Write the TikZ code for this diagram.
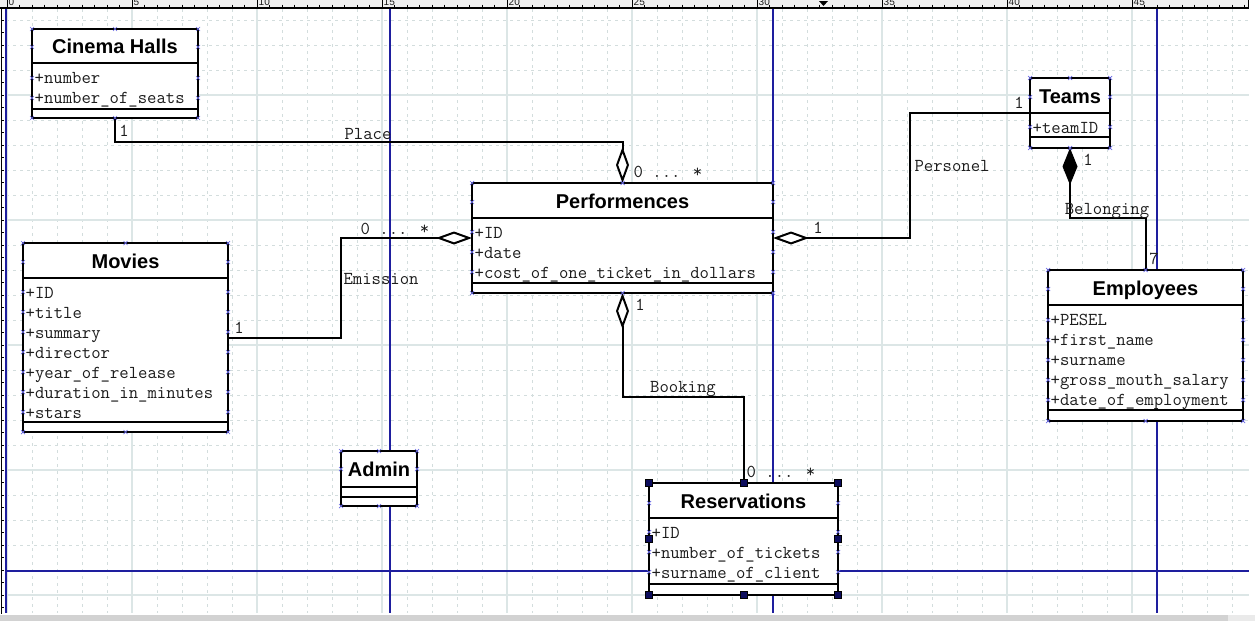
\documentclass[tikz,border=0pt]{standalone}
\usepackage{fontspec}
\setmainfont{Liberation Sans}
\usetikzlibrary{arrows.meta,fit}
\definecolor{gridminor}{HTML}{D3DDDD}
\definecolor{gridmajor}{HTML}{DCE6E6}
\definecolor{pageblue}{HTML}{1E1E9E}
\definecolor{xblue}{HTML}{6A6AE6}
\definecolor{handlec}{HTML}{0C0C5C}
\definecolor{txtc}{HTML}{1C1C1C}
\definecolor{rulerbg}{HTML}{F0F0F0}
\definecolor{barc}{HTML}{D2D2D2}
\definecolor{barlight}{HTML}{EAEAEA}
\tikzset{
 umlbox/.style={draw=black, line width=2pt, fill=white, inner sep=0pt, outer sep=0pt, rectangle},
 sepline/.style={draw=black, line width=2pt},
 conn/.style={draw=black, line width=2pt},
 ttl/.style={font=\fontsize{20}{24}\selectfont\bfseries, text=black, anchor=base, inner sep=0pt},
 attr/.style={font=\ttfamily\fontsize{18.2}{20}\selectfont, text=txtc, anchor=base west, inner sep=0pt},
 lbl/.style={font=\ttfamily\fontsize{18.2}{20}\selectfont, text=txtc, anchor=base, inner sep=0pt},
 xm/.style={draw=xblue, line width=0.7pt},
 rnum/.style={font=\fontsize{10}{10}\selectfont, text=txtc, anchor=south west, inner sep=0pt},
}
% name, left, top, right, bottom, sep1, sep2
\newcommand\umlclass[7]{%
  \node[umlbox, fit={(#2,#3) (#4,#5)}] (#1) {};
  \draw[sepline] (#2,#6) -- (#4,#6) (#2,#7) -- (#4,#7);
}
\newcommand\xmk[1]{\draw[xm] #1 +(-2,-2) -- +(2,2) +(-2,2) -- +(2,-2);}
\newcommand\rowmarks[2]{%
  \foreach \yy in {#2} {\xmk{(#1.west |- 0,\yy)}\xmk{(#1.east |- 0,\yy)}}%
}
\newcommand\cornermarks[1]{%
  \foreach \aa in {north west,north,north east,south west,south,south east} {\xmk{(#1.\aa)}}%
}
\begin{document}
\begin{tikzpicture}[x=1pt,y=-1pt]
\useasboundingbox (0,0) rectangle (1255,621);
\fill[white] (0,0) rectangle (1255,621);
% grid
\begin{scope}
\clip (6,9) rectangle (1249,613);
\foreach \x in {7,32,...,1250} \draw[gridminor, line width=0.9pt, dash pattern=on 3pt off 4pt] (\x,9) -- (\x,613);
\foreach \y in {20,45,...,613} \draw[gridminor, line width=0.9pt, dash pattern=on 3pt off 4pt] (6,\y) -- (1249,\y);
\foreach \x in {7,132,...,1250} \draw[gridmajor, line width=1.4pt] (\x,9) -- (\x,613);
\foreach \y in {95,220,...,613} \draw[gridmajor, line width=1.4pt] (6,\y) -- (1249,\y);
\end{scope}
% page borders
\draw[pageblue, line width=1.2pt] (6,9) -- (6,613);
\foreach \x in {390,773,1157} \draw[pageblue, line width=1.2pt] (\x,9) -- (\x,613);
\draw[pageblue, line width=1.2pt] (6,571) -- (1249,571);
% top ruler
\fill[rulerbg] (0,0) rectangle (1249,8);
\begin{scope}
\clip (0,0) rectangle (1249,8);
\foreach \x in {7,19.5,...,1249} \draw[black, line width=0.8pt] (\x,4.5) -- (\x,8);
\foreach \x/\n in {7/0,132/5,257/10,382/15,507/20,632/25,757/30,882/35,1007/40,1132/45} {
  \draw[black, line width=0.8pt] (\x,0) -- (\x,8);
  \node[rnum] (rn\n) at (\x+1.5,6) {\n};
}
\end{scope}
\draw[black, line width=1.6pt] (0,8.2) -- (1249,8.2);
\draw[black, line width=1pt] (1248.5,0) -- (1248.5,8.2);
\fill[black] (819,1) -- (828,1) -- (823.5,6) -- cycle;
% left ruler
\draw[black, line width=1.5pt] (1.5,8) -- (1.5,614);
\foreach \y in {20,32.5,...,612} \draw[black, line width=0.7pt] (1.5,\y) -- (4.2,\y);
% bottom bar
\fill[barc] (0,614.5) rectangle (1228,621);
\fill[barlight] (1228,614.5) rectangle (1255,621);

% classes
\umlclass{cinema}{32}{29}{198}{118}{63}{109}
\node[ttl] (cinema-t) at (115,53.5) {Cinema Halls};
\node[attr] (cinema-a1) at (34.5,83) {+number};
\node[attr] (cinema-a2) at (34.5,103) {+number\_of\_seats};

\umlclass{teams}{1030}{78}{1110}{148}{113}{137}
\node[ttl] (teams-t) at (1070,103) {Teams};
\node[attr] (teams-a1) at (1032.5,133) {+teamID};

\umlclass{perf}{472}{183}{773}{293}{218}{283}
\node[ttl] (perf-t) at (622.5,208) {Performences};
\node[attr] (perf-a1) at (474.5,238) {+ID};
\node[attr] (perf-a2) at (474.5,258) {+date};
\node[attr] (perf-a3) at (474.5,278) {+cost\_of\_one\_ticket\_in\_dollars};

\umlclass{movies}{23}{243}{228}{432}{278}{422}
\node[ttl] (movies-t) at (125.5,268) {Movies};
\node[attr] (movies-a1) at (25.5,298) {+ID};
\node[attr] (movies-a2) at (25.5,318) {+title};
\node[attr] (movies-a3) at (25.5,338) {+summary};
\node[attr] (movies-a4) at (25.5,358) {+director};
\node[attr] (movies-a5) at (25.5,378) {+year\_of\_release};
\node[attr] (movies-a6) at (25.5,398) {+duration\_in\_minutes};
\node[attr] (movies-a7) at (25.5,418) {+stars};

\umlclass{emp}{1048}{270}{1243}{421}{305}{410}
\node[ttl] (emp-t) at (1145.5,295) {Employees};
\node[attr] (emp-a1) at (1050.5,325) {+PESEL};
\node[attr] (emp-a2) at (1050.5,345) {+first\_name};
\node[attr] (emp-a3) at (1050.5,365) {+surname};
\node[attr] (emp-a4) at (1050.5,385) {+gross\_mouth\_salary};
\node[attr] (emp-a5) at (1050.5,405) {+date\_of\_employment};

\umlclass{admin}{341}{451}{417}{506}{487}{497}
\node[ttl] (admin-t) at (379,476) {Admin};

\umlclass{res}{649}{483}{838}{595}{518}{584}
\node[ttl] (res-t) at (743.5,508) {Reservations};
\node[attr] (res-a1) at (651.5,538) {+ID};
\node[attr] (res-a2) at (651.5,558) {+number\_of\_tickets};
\node[attr] (res-a3) at (651.5,578) {+surname\_of\_client};

% connectors
\draw[conn, -{Diamond[fill=white, length=36pt, width=13pt]}] (cinema.south) -- ++(0,24) -| (perf.north);
\draw[conn, -{Diamond[fill=white, length=36pt, width=13pt]}] (movies.east) -- ++(113,0) |- (perf.west);
\draw[conn, {Diamond[fill=white, length=36pt, width=13pt]}-] (perf.east) -- ++(137,0) |- (teams.west);
\draw[conn, {Diamond[fill=black, length=37pt, width=15pt]}-] (teams.south) -- ++(0,70) -| (emp.north);
\draw[conn, {Diamond[fill=white, length=36pt, width=13pt]}-] (perf.south) -- ++(0,104) -| (res.north);

% labels
\node[lbl] (l-place) at (368,139.5) {Place};
\node[lbl] (m-place1) at (124,136) {1};
\node[lbl] (m-place2) at (668,177.5) {0 ... *};
\node[lbl] (l-emis) at (381,284.5) {Emission};
\node[lbl] (m-emis1) at (239,333.5) {1};
\node[lbl] (m-emis2) at (395,234.5) {0 ... *};
\node[lbl] (l-pers) at (952,171.5) {Personel};
\node[lbl] (m-pers1) at (818,233.5) {1};
\node[lbl] (m-pers2) at (1019,108.5) {1};
\node[lbl] (l-belong) at (1107,214.5) {Belonging};
\node[lbl] (m-belong1) at (1088,165) {1};
\node[lbl] (m-belong2) at (1154,264) {7};
\node[lbl] (l-book) at (683,392.5) {Booking};
\node[lbl] (m-book1) at (640,310.5) {1};
\node[lbl] (m-book2) at (781,477.5) {0 ... *};

% connection point marks
\cornermarks{cinema}\rowmarks{cinema}{47,78,98}
\cornermarks{teams}\rowmarks{teams}{97,127}
\cornermarks{perf}\rowmarks{perf}{202,232,252,272}
\cornermarks{movies}\rowmarks{movies}{262,292,312,332,352,372,392,412}
\cornermarks{emp}\rowmarks{emp}{289,320,340,360,380,400}
\cornermarks{admin}\rowmarks{admin}{469}
\rowmarks{res}{503,532,552,572}
% selection handles
\foreach \aa in {north west,north,north east,west,east,south west,south,south east}
  \filldraw[fill=handlec, draw=black, line width=0.5pt] (res.\aa) ++(-3.5,-3.5) rectangle ++(7,7);
\end{tikzpicture}
\end{document}
